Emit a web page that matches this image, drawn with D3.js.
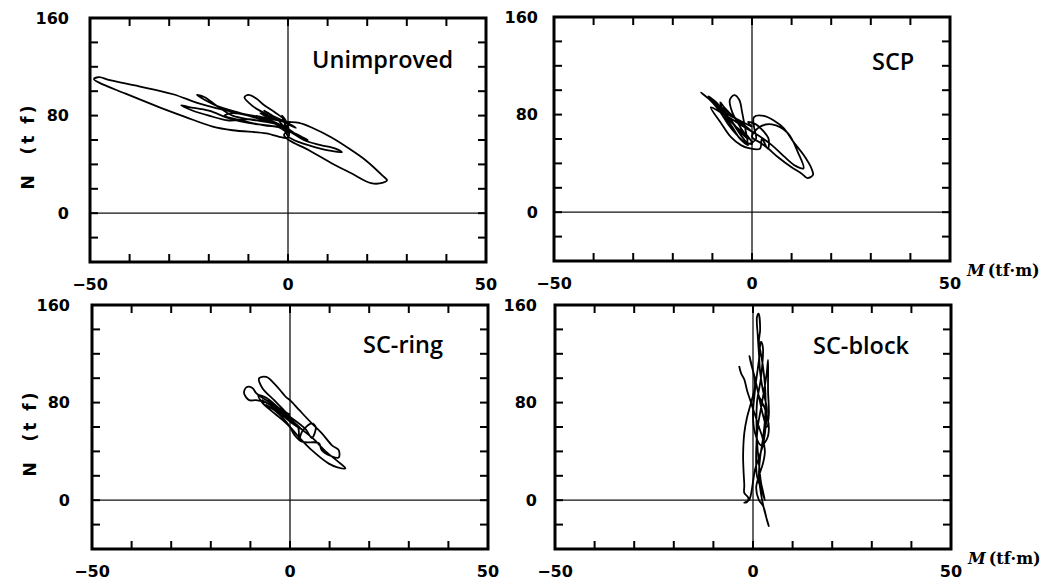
<!DOCTYPE html>
<html>
<head>
<meta charset="utf-8">
<script src="https://cdn.jsdelivr.net/npm/d3@7"></script>
<style>
  body { margin: 0; background: #fff; }
  .tick-label { font-family: "DejaVu Sans", sans-serif; font-weight: bold; font-size: 16px; }
  .panel-title { font-family: "Open Sans", "Noto Sans", sans-serif; font-weight: 600; font-size: 23.5px; }
  .axis-name { font-family: "DejaVu Sans", sans-serif; font-weight: bold; font-size: 17px; letter-spacing: 3px; }
  .m-label { font-family: "DejaVu Serif", serif; font-weight: bold; font-size: 16px; }
</style>
</head>
<body>
<div id="chart"></div>
<script>
// axis values
const mTicks = [-40, -30, -20, -10, 0, 10, 20, 30, 40];
const nTicks = [-20, 0, 20, 40, 60, 80, 100, 120, 140];
const mTickLabels = [-50, 0, 50];
const nTickLabels = [0, 80, 160];
const panelNames = ["Unimproved", "SCP", "SC-ring", "SC-block"];

// [M (tf·m), N (tf)]
const unimproved = [
  [0,68],[-2,72],[-4,75],[-1,70],[2,64],[1,67],[-3,74],[-6,78],[-8,80],[-5,76],[0,68],[3,63],[5,60],[2,65],[-1,71],
  [-3,78],[-6,84],[-4,80],[0,74],[2,70],[-2,76],[-7,82],[-4,77],
  [-5,80],[-9,88],[-11,95],[-10,97],[-8,94],[-6,88.5],[-3,82],[-1,77],[0,72],
  [-4,74],[-10,77],[-15,76],[-20,80],[-24,84],[-27,88.5],[-25,87],[-20,84],[-15,78],[-10,74],[-5,72],[0,70],
  [-6,76],[-12,82],[-18,88],[-23,97],[-21,95],[-18,88],[-14,80],[-8,76],[-3,73],[1,66],
  [4,60],[8,56],[12,53],[13.6,50],[11,51],[7,54],[3,58],[0,63],[-1,70],
  [-5,75],[-10,80],[-14,82],[-16,80],[-12,76],[-6,72],[-2,70],[0,66],[-1,75],[-1.5,80],[-1,78],[0,72],
  [0,62],[-5.5,65.5],[-14,68],[-19,71],[-26,79],[-32.6,87],[-41,98],[-47.7,107],[-49,110],[-47.7,111.5],
  [-45,109],[-37.6,104],[-29,97.5],[-22.5,90],[-14,83],[-5.5,78],[-0.5,75],
  [2.8,74],[6.1,70],[11,62],[15.4,53],[19.6,43.4],[23.8,31],[25,27],[24,25],[21,24.6],[16,32.7],[11,41],
  [5.3,51.6],[0.2,60],[-1,64],[0,68]
];

const scp = [
  [0,70],[-3,75],[-6,80],[-9,88],[-12.9,98],[-12,96],[-10,90],[-8,82],[-6,72],[-4,64],[-2,58],[0,56],
  [-1,62],[-4,70],[-7,80],[-10,92],[-11,95],[-9,90],[-7,82],[-5,74],[-3,66],[-1,60],
  [-3,70],[-5,82],[-5.6,92],[-4.5,96],[-3.2,92],[-2.5,82],[-1.8,70],[-1.2,60],[-1,56],
  [1,60],[0.5,70],[0.5,78],[3,79],[5.6,75],[8,69],[10.6,57],[13,47],[15,36],[15.4,30.5],[14,28],
  [12.4,32],[9.9,37],[6.6,45],[4,52.4],[2.3,56.6],[0,62],
  [2,70],[5,72],[9,65],[11.6,49],[13,36],[11,38],[8,46],[5,55],[2,62],[-1,68],
  [-4,76],[-7,86],[-8,90],[-7,80],[-5,70],[-3,60],[-1,55],[-3,64],[-6,78],[-9,88],[-6,82],[-3,74],[0,66],
  [-4,74],[-8,82],[-10.4,86],[-7.8,73],[-5.3,61.5],[-2.8,55],[-0.8,52.5],[2,52],[2.5,60],[4,52],[4.2,60],
  [3,66],[1,72],[-1,74],[0,70]
];

const scRing = [
  [0,70],[-2,74],[-4,78],[-2,72],[1,64],[3,58],[1,62],[-2,70],[-5,78],[-7,82],[-4,76],[-1,68],[2,60],
  [2.3,49],[3,56],[5.5,63],[6.5,60],[5.5,51],[4,58],[1,66],[-2,72],[-6,80],[-8.6,82],[-10.3,82],
  [-11.6,87.7],[-11,92.6],[-9.5,92],[-8.6,88],[-7,84],[-4,78],[-1,70],[1,64],
  [-1,72],[-4,82],[-7,92],[-7.8,100],[-6,101],[-3.5,94],[-1,84.5],[0,82],[2.3,74],[5.5,63],[8,55],
  [10.6,45],[12.3,41],[12.3,35],[10.5,36],[8,41],[7.3,46.7],[3,48],[1,54],[0,60],[-2,68],[-4,74],[-6,78],
  [-3,72],[0,66],[3,58],[6,50],[9,40],[12,32],[14,26],[12,27],[9.8,30],[5.5,41],[2.3,51.6],[0,60],
  [-2,66],[-5,74],[-7,80],[-8,86],[-6,84],[-3,76],[0,68]
];

const scBlock = [
  [-3.5,110],[-3,104],[-2.2,99],[-1.5,90],[-0.5,80],[0.5,70],[1.5,60],[2.5,50],[3,40],[2.5,30],[1.5,20],
  [0.8,10],[1.5,0],[2.6,-5],[3.5,-16],[4,-21.3],[3.8,-19],[3,-10],[2.3,0],[1.8,10],[1.5,20],[1.8,35],
  [2.5,50],[3,65],[3.2,80],[3,95],[2.5,110],[2,120],[1.5,130],[1.8,140],[1.4,153],[1,150],[1.2,135],
  [1.5,120],[1.8,105],[2.5,90],[3.5,75],[3.2,60],[2.5,45],[1.5,35],[0.5,25],[0,15],[-0.5,5],[-1,0],
  [-2.2,-2],[-1.5,-1.5],[-1.2,2],
  [-2.2,6],[-2.2,12],[-2.4,25],[-2.5,36],[-2.2,55],[-1.5,68],[-0.5,80],[0.5,95],[-0.9,118],[-0.5,112],
  [0.5,100],[1.5,85],[2.5,70],[3.5,60],[4,70],[3.8,90],[3.8,115],[3.5,105],[2.8,90],[2,75],[1.2,60],
  [0.8,40],[1,20],[2,10],[3,0],
  [2,15],[1.5,30],[1,50],[1,80],[2,100],[2.5,125],[2,130],[1.5,115],[0.5,90],[0,70],[0.5,55],[2,45],
  [3.5,50],[4,60],[3,75],[1.5,85]
];

const traces = [unimproved, scp, scRing, scBlock];

const width = 1047, height = 582;
const panelW = 396, panelH = 244;

// layout per panel (pixels)
const panels = [
  { left: 90,  top: 18,  titleDx: 222, titleDy: 50, labelGap: 21, yName: true,  mName: false },
  { left: 554, top: 17,  titleDx: 318, titleDy: 53, labelGap: 16, yName: false, mName: true },
  { left: 92,  top: 305, titleDx: 271, titleDy: 48, labelGap: 22, yName: true,  mName: false },
  { left: 555, top: 305, titleDx: 258, titleDy: 49, labelGap: 18, yName: false, mName: true }
];

const svg = d3.select("#chart")
  .append("svg")
  .attr("width", width)
  .attr("height", height)
  .style("background", "#fff");

const xScale = d3.scaleLinear().domain([-50, 50]).range([0, panelW]);
const yScale = d3.scaleLinear().domain([-40, 160]).range([panelH, 0]);

const line = d3.line()
  .x(d => xScale(d[0]))
  .y(d => yScale(d[1]))
  .curve(d3.curveCatmullRom.alpha(0.5));

panels.forEach((p, i) => {
  const g = svg.append("g").attr("transform", `translate(${p.left},${p.top})`);

  // zero lines
  g.append("line")
    .attr("x1", xScale(0)).attr("x2", xScale(0))
    .attr("y1", 0).attr("y2", panelH)
    .attr("stroke", "#111").attr("stroke-width", 1.3);
  g.append("line")
    .attr("x1", 0).attr("x2", panelW)
    .attr("y1", yScale(0)).attr("y2", yScale(0))
    .attr("stroke", "#111").attr("stroke-width", 1.3);

  // inward ticks on all four sides
  const tickLen = 8;
  mTicks.forEach(t => {
    g.append("line").attr("x1", xScale(t)).attr("x2", xScale(t))
      .attr("y1", 0).attr("y2", tickLen)
      .attr("stroke", "#000").attr("stroke-width", 2);
    g.append("line").attr("x1", xScale(t)).attr("x2", xScale(t))
      .attr("y1", panelH).attr("y2", panelH - tickLen)
      .attr("stroke", "#000").attr("stroke-width", 2);
  });
  nTicks.forEach(t => {
    g.append("line").attr("x1", 0).attr("x2", tickLen)
      .attr("y1", yScale(t)).attr("y2", yScale(t))
      .attr("stroke", "#000").attr("stroke-width", 2);
    g.append("line").attr("x1", panelW).attr("x2", panelW - tickLen)
      .attr("y1", yScale(t)).attr("y2", yScale(t))
      .attr("stroke", "#000").attr("stroke-width", 2);
  });

  // trace
  g.append("path")
    .datum(traces[i])
    .attr("d", line)
    .attr("fill", "none")
    .attr("stroke", "#000")
    .attr("stroke-width", 1.8)
    .attr("stroke-linejoin", "round");

  // frame
  g.append("rect")
    .attr("x", 0).attr("y", 0)
    .attr("width", panelW).attr("height", panelH)
    .attr("fill", "none")
    .attr("stroke", "#000")
    .attr("stroke-width", 3);

  // tick labels
  mTickLabels.forEach(t => {
    g.append("text")
      .attr("class", "tick-label")
      .attr("x", xScale(t))
      .attr("y", panelH + 28)
      .attr("text-anchor", "middle")
      .text(t < 0 ? "\u2212" + Math.abs(t) : t);
  });
  nTickLabels.forEach(t => {
    g.append("text")
      .attr("class", "tick-label")
      .attr("x", -p.labelGap)
      .attr("y", yScale(t))
      .attr("dy", "0.36em")
      .attr("text-anchor", "end")
      .text(t);
  });

  // title
  g.append("text")
    .attr("class", "panel-title")
    .attr("x", p.titleDx)
    .attr("y", p.titleDy)
    .text(panelNames[i]);

  if (p.yName) {
    g.append("text")
      .attr("class", "axis-name")
      .attr("transform", `translate(-62,${panelH / 2 + 6}) rotate(-90)`)
      .attr("text-anchor", "middle")
      .attr("dy", "0.35em")
      .attr("xml:space", "preserve")
      .text("N  (t f)");
  }

  if (p.mName) {
    const t = g.append("text")
      .attr("class", "m-label")
      .attr("x", panelW + 17)
      .attr("y", panelH + 15);
    t.append("tspan").attr("font-style", "italic").text("M");
    t.append("tspan").attr("dx", 3).text("(tf\u00b7m)");
  }
});
</script>
</body>
</html>
